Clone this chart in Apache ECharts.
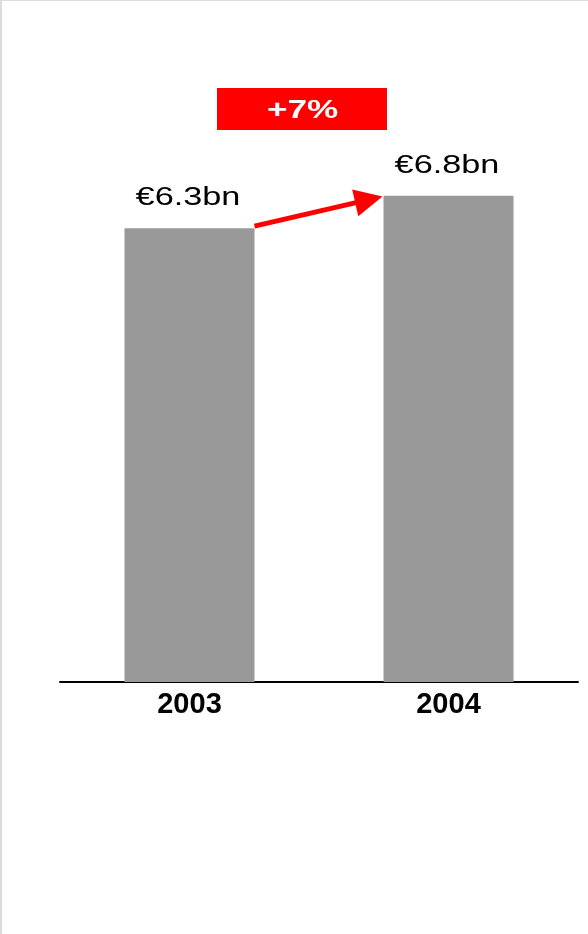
<!DOCTYPE html>
<html>
<head>
<meta charset="utf-8">
<script src="https://cdn.jsdelivr.net/npm/echarts@6/dist/echarts.min.js"></script>
<style>
  html, body { margin: 0; padding: 0; background: #fff; }
  #chart { width: 588px; height: 934px; position: absolute; left: 0; top: 0; }
  #frame { position: absolute; left: 0; top: 0; width: 588px; height: 934px; box-sizing: border-box;
           border-left: 2px solid #dcdcdc; border-top: 1px solid #dcdcdc; pointer-events: none; }
</style>
</head>
<body>
<div id="chart"></div>
<div id="frame"></div>
<script>
const categories = ['2003', '2004'];
const values = [6.33, 6.78];
const growthLabel = '+7%';

const FONT = "Liberation Sans";
const chart = echarts.init(document.getElementById('chart'), null, { renderer: 'canvas' });

chart.setOption({
  animation: false,
  backgroundColor: '#ffffff',
  grid: { left: 60, right: 10, top: 36.7, bottom: 252, containLabel: false },
  xAxis: {
    type: 'category',
    data: categories,
    axisLine: { show: true, lineStyle: { color: '#000', width: 2 } },
    axisTick: { show: false },
    axisLabel: { margin: 8, color: '#000', fontFamily: FONT, fontWeight: 'bold', fontSize: 29 }
  },
  yAxis: {
    type: 'value', min: 0, max: 9, show: false, splitLine: { show: false }
  },
  series: [
    {
      type: 'bar',
      data: values,
      barWidth: 130,
      itemStyle: { color: '#999999' },
      label: { show: false }
    },
    {
      type: 'custom',
      coordinateSystem: 'cartesian2d',
      data: [[0, values[0], 1, values[1]]],
      z: 5,
      renderItem: function (params, api) {
        const p0 = api.coord([api.value(0), api.value(1)]);
        const p1 = api.coord([api.value(2), api.value(3)]);
        const half = 65;
        const S = [p0[0] + half, p0[1] - 2];
        const T = [p1[0] - half - 1, p1[1] + 0.7];
        const dx = T[0] - S[0], dy = T[1] - S[1];
        const len = Math.sqrt(dx * dx + dy * dy);
        const u = [dx / len, dy / len];
        const n = [-u[1], u[0]];
        const L = 28, W = 13.6;
        const B = [T[0] - u[0] * L, T[1] - u[1] * L];
        return {
          type: 'group',
          children: [
            { type: 'line', shape: { x1: S[0], y1: S[1], x2: B[0] + u[0] * 2, y2: B[1] + u[1] * 2 },
              style: { stroke: '#ff0000', lineWidth: 5 } },
            { type: 'polygon', shape: { points: [T, [B[0] + n[0] * W, B[1] + n[1] * W], [B[0] - n[0] * W, B[1] - n[1] * W]] },
              style: { fill: '#ff0000' } }
          ]
        };
      }
    }
  ]
});

const graphics = [];
values.forEach(function (v, i) {
  const p = chart.convertToPixel({ seriesIndex: 0 }, [i, v]);
  graphics.push({
    type: 'text',
    x: p[0] - 1.5, y: p[1] - 30,
    scaleX: 1.37, scaleY: 1,
    z: 10,
    style: {
      text: '€' + v.toFixed(1) + 'bn',
      x: 0, y: 0,
      fontFamily: FONT, fontSize: 25, fontWeight: 'normal',
      fill: '#000',
      align: 'center', verticalAlign: 'middle'
    }
  });
});
graphics.push({
  type: 'rect', z: 10,
  shape: { x: 217, y: 88, width: 170, height: 42 },
  style: { fill: '#ff0000' }
});
graphics.push({
  type: 'text', z: 11,
  x: 302.5, y: 111, scaleX: 1.35, scaleY: 1,
  style: {
    text: growthLabel, x: 0, y: 0,
    fontFamily: FONT, fontSize: 26, fontWeight: 'bold',
    fill: '#ffffff', align: 'center', verticalAlign: 'middle'
  }
});
chart.setOption({ graphic: graphics });
</script>
</body>
</html>
